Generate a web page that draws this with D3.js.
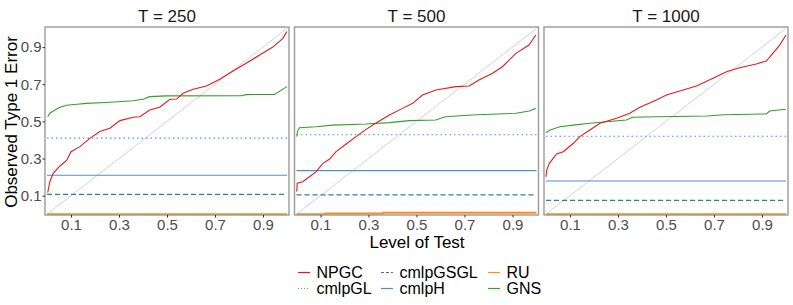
<!DOCTYPE html>
<html>
<head>
<meta charset="utf-8">
<script src="https://cdn.jsdelivr.net/npm/d3@7"></script>
<style>
  body { margin: 0; background: #fff; }
  text { font-family: "Liberation Sans", Arial, sans-serif; }
</style>
</head>
<body>
<div id="chart"></div>
<script>
// panels (sample sizes)
const panels = ["T = 250", "T = 500", "T = 1000"];
const xTicks = [0.1, 0.3, 0.5, 0.7, 0.9];
const yTicks = [0.1, 0.3, 0.5, 0.7, 0.9];

// NPGC curves: [level, observed error]
const npgc250 = [[0.003,0.116],[0.012,0.175],[0.026,0.22],[0.054,0.26],[0.082,0.29],[0.10,0.337],[0.137,0.364],
  [0.18,0.41],[0.22,0.445],[0.262,0.463],[0.304,0.504],[0.359,0.522],[0.387,0.525],[0.428,0.561],[0.47,0.576],
  [0.512,0.619],[0.54,0.62],[0.567,0.651],[0.609,0.673],[0.664,0.69],[0.72,0.727],[0.775,0.771],[0.83,0.813],
  [0.886,0.857],[0.941,0.90],[0.983,0.947],[0.999,0.983]];
const npgc500 = [[0.001,0.122],[0.003,0.167],[0.026,0.175],[0.054,0.202],[0.082,0.229],[0.11,0.274],[0.137,0.296],
  [0.165,0.337],[0.207,0.378],[0.248,0.418],[0.29,0.457],[0.33,0.49],[0.387,0.534],[0.442,0.57],[0.484,0.597],
  [0.525,0.642],[0.581,0.669],[0.664,0.687],[0.72,0.69],[0.76,0.723],[0.817,0.759],[0.858,0.794],[0.914,0.866],
  [0.969,0.911],[0.997,0.965]];
const npgc1000 = [[0.0,0.202],[0.003,0.238],[0.014,0.274],[0.044,0.325],[0.072,0.337],[0.114,0.382],[0.141,0.418],
  [0.183,0.454],[0.225,0.49],[0.294,0.517],[0.349,0.544],[0.391,0.576],[0.46,0.615],[0.502,0.642],[0.571,0.669],
  [0.627,0.69],[0.696,0.732],[0.752,0.767],[0.807,0.789],[0.876,0.809],[0.918,0.825],[0.946,0.867],[0.973,0.909],
  [1.0,0.965]];

// GNS curves
const gns250 = [[0.003,0.525],[0.012,0.544],[0.033,0.561],[0.054,0.576],[0.082,0.587],[0.124,0.592],[0.165,0.597],
  [0.262,0.603],[0.359,0.611],[0.40,0.619],[0.428,0.633],[0.497,0.637],[0.81,0.638],[0.83,0.644],[0.948,0.645],
  [1.0,0.687]];
const gns500 = [[0.001,0.418],[0.004,0.445],[0.012,0.466],[0.082,0.471],[0.15,0.48],[0.29,0.486],[0.387,0.493],
  [0.47,0.504],[0.58,0.507],[0.62,0.525],[0.73,0.534],[0.914,0.544],[0.97,0.556],[0.997,0.57]];
const gns1000 = [[0.0,0.439],[0.017,0.454],[0.058,0.471],[0.114,0.48],[0.183,0.49],[0.252,0.498],[0.335,0.507],
  [0.36,0.522],[0.46,0.525],[0.67,0.529],[0.74,0.536],[0.918,0.54],[0.932,0.556],[1.0,0.565]];

// RU curves
const ru250 = [[0,0.0],[1,0.0]];
const ru500 = [[0,0.0],[0.12,0.0],[0.12,0.004],[0.36,0.004],[0.36,0.008],[1,0.008]];
const ru1000 = [[0,0.0],[1,0.0]];

// constant methods per panel
const cmlpGL = [0.41, 0.428, 0.42];
const cmlpH = [0.21, 0.235, 0.179];
const cmlpGSGL = [0.107, 0.104, 0.075];

const series = [
  { name: "NPGC", color: "#e41a1c", dash: null, keyDash: null },
  { name: "cmlpGL", color: "#4a98d6", dash: "1.5,3", keyDash: "1,2" },
  { name: "cmlpGSGL", color: "#2b7bba", dash: "5,3", keyDash: "3,2" },
  { name: "cmlpH", color: "#4f8ec8", dash: null, keyDash: null },
  { name: "RU", color: "#ff8c1a", dash: null, keyDash: null },
  { name: "GNS", color: "#33a02c", dash: null, keyDash: null }
];

const panelData = [
  { npgc: npgc250, gns: gns250, ru: ru250 },
  { npgc: npgc500, gns: gns500, ru: ru500 },
  { npgc: npgc1000, gns: gns1000, ru: ru1000 }
];

const width = 793, height = 305;
const panelW = 244, panelH = 188, panelTop = 27;
const lefts = [45, 294.5, 544];
const fontFam = "Liberation Sans, Arial, sans-serif";

const svg = d3.select("#chart").append("svg")
  .attr("width", width).attr("height", height);

const x = d3.scaleLinear().domain([-0.0083, 1.0083]).range([0, panelW]);
const y = d3.scaleLinear().domain([-0.004, 1.008]).range([panelH, 0]);
const line = d3.line().x(d => x(d[0])).y(d => y(d[1]));
const col = name => series.find(s => s.name === name);

panels.forEach((title, i) => {
  const g = svg.append("g").attr("transform", `translate(${lefts[i]},${panelTop})`);
  const pd = panelData[i];

  g.append("defs").append("clipPath").attr("id", "clip" + i)
    .append("rect").attr("width", panelW).attr("height", panelH);
  const plot = g.append("g").attr("clip-path", `url(#clip${i})`);

  // reference diagonal
  plot.append("path").datum([[0, 0], [1, 1]])
    .attr("d", line).attr("fill", "none")
    .attr("stroke", "#d3d3d3").attr("stroke-width", 1);

  const hline = (name, v) => {
    const s = col(name);
    plot.append("path").datum([[0, v], [1, v]])
      .attr("d", line).attr("fill", "none")
      .attr("stroke", s.color).attr("stroke-width", 1.2)
      .attr("stroke-dasharray", s.dash);
  };
  hline("cmlpGL", cmlpGL[i]);
  hline("cmlpH", cmlpH[i]);
  hline("cmlpGSGL", cmlpGSGL[i]);

  plot.append("path").datum(pd.ru)
    .attr("d", line).attr("fill", "none")
    .attr("stroke", col("RU").color).attr("stroke-width", 1.8);
  plot.append("path").datum(pd.gns)
    .attr("d", line).attr("fill", "none")
    .attr("stroke", col("GNS").color).attr("stroke-width", 1.1);
  plot.append("path").datum(pd.npgc)
    .attr("d", line).attr("fill", "none")
    .attr("stroke", col("NPGC").color).attr("stroke-width", 1.1);

  // panel border
  g.append("rect").attr("width", panelW).attr("height", panelH)
    .attr("fill", "none").attr("stroke", "#9a9a9a").attr("stroke-width", 1.4);

  // x axis
  const xa = g.append("g").attr("transform", `translate(0,${panelH})`)
    .call(d3.axisBottom(x).tickValues(xTicks).tickSize(2.5).tickPadding(2).tickFormat(d3.format(".1f")));
  xa.select(".domain").remove();
  xa.selectAll("line").attr("stroke", "#333");
  xa.selectAll("text").attr("fill", "#4d4d4d").style("font-size", "15px")
    .style("font-family", fontFam);

  if (i === 0) {
    const ya = g.append("g")
      .call(d3.axisLeft(y).tickValues(yTicks).tickSize(2.5).tickPadding(1).tickFormat(d3.format(".1f")));
    ya.select(".domain").remove();
    ya.selectAll("line").attr("stroke", "#333");
    ya.selectAll("text").attr("fill", "#4d4d4d").style("font-size", "15px")
      .style("font-family", fontFam);
  }

  g.append("text").attr("x", panelW / 2).attr("y", -5)
    .attr("text-anchor", "middle").attr("fill", "#1a1a1a")
    .style("font-size", "17px").text(title);
});

// axis titles
svg.append("text").attr("x", 417).attr("y", 248).attr("text-anchor", "middle")
  .attr("fill", "#000").style("font-size", "17px").text("Level of Test");
svg.append("text").attr("transform", "translate(17,122) rotate(-90)")
  .attr("text-anchor", "middle").attr("fill", "#000").style("font-size", "17px")
  .text("Observed Type 1 Error");

// legend: 2 rows, column-major
const legendCols = [298, 381, 488];
const legendRows = [272.5, 288.5];
series.forEach((s, k) => {
  const c = Math.floor(k / 2), r = k % 2;
  const lg = svg.append("g").attr("transform", `translate(${legendCols[c]},${legendRows[r]})`);
  lg.append("line").attr("x1", 0).attr("x2", 12).attr("y1", 0).attr("y2", 0)
    .attr("stroke", s.color).attr("stroke-width", 1.2)
    .attr("stroke-dasharray", s.keyDash);
  lg.append("text").attr("x", 18.5).attr("y", 5).attr("fill", "#000")
    .style("font-size", "16px").text(s.name);
});
</script>
</body>
</html>
